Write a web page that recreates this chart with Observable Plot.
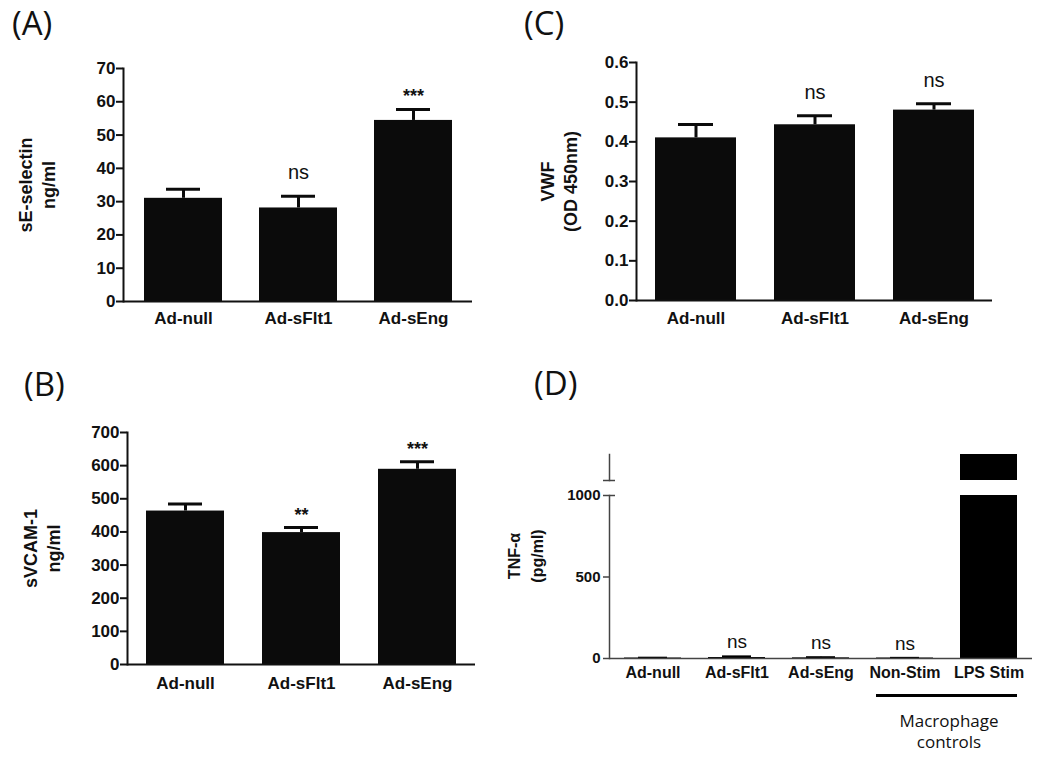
<!DOCTYPE html>
<html><head><meta charset="utf-8">
<script src="https://cdn.jsdelivr.net/npm/d3@7"></script>
<script src="https://cdn.jsdelivr.net/npm/@observablehq/plot@0.6"></script>
<style>
body{margin:0;background:#fff;}
#root{position:relative;width:1050px;height:764px;overflow:hidden;background:#fff;}
.pl{position:absolute;}
.tag{position:absolute;font-family:"Open Sans",sans-serif;font-size:33px;line-height:1;color:#111;}
</style></head><body><div id="root"></div>
<script>
// ---- data ----
const groupsABC = ["Ad-null", "Ad-sFlt1", "Ad-sEng"];
const selectinMean = [31.0, 28.1, 54.4];
const selectinErr = [2.7, 3.5, 3.3];
const selectinSig = ["", "ns", "***"];
const vcamMean = [463, 398, 589];
const vcamErr = [21, 15, 23];
const vcamSig = ["", "**", "***"];
const vwfMean = [0.410, 0.443, 0.480];
const vwfErr = [0.034, 0.023, 0.016];
const vwfSig = ["", "ns", "ns"];
const groupsD = ["Ad-null", "Ad-sFlt1", "Ad-sEng", "Non-Stim", "LPS Stim"];
const tnfMean = [3, 6, 4, 3, 1260];
const tnfErr = [2, 7, 4, 1, 0];
const tnfSig = ["", "ns", "ns", "ns", ""];
const ticksA = [0, 10, 20, 30, 40, 50, 60, 70];
const ticksB = [0, 100, 200, 300, 400, 500, 600, 700];
const ticksC = [0, 0.1, 0.2, 0.3, 0.4, 0.5, 0.6];
const ticksD = [0, 500, 1000];
const labelA = "sE-selectin\nng/ml";
const labelB = "sVCAM-1\nng/ml";
const labelC = "VWF\n(OD 450nm)";
const labelD = "TNF-α\n(pg/ml)";
const bracketD = [{from: "Non-Stim", to: "LPS Stim", label: "Macrophage\ncontrols"}];

const root = document.getElementById("root");
const FONT = '"Liberation Sans", Arial, sans-serif';
function place(el, left, top) {
  const d = document.createElement("div");
  d.className = "pl"; d.style.left = left + "px"; d.style.top = top + "px";
  d.appendChild(el); root.appendChild(d);
}
function tag(t, left, top) {
  const d = document.createElement("div");
  d.className = "tag"; d.textContent = t; d.style.left = left + "px"; d.style.top = top + "px";
  root.appendChild(d);
}

function barPanel(c) {
  const rows = c.groups.map((g, i) => ({g, v: c.mean[i], hi: c.mean[i] + c.err[i], s: c.sig[i]}));
  return Plot.plot({
    width: c.width, height: c.height,
    marginLeft: c.ml, marginRight: c.mr, marginTop: c.mt, marginBottom: c.mb,
    style: {fontFamily: FONT, fontWeight: "bold", fontSize: c.fs + "px", color: "#111", background: "transparent", overflow: "visible"},
    x: {type: "band", domain: c.groups, paddingInner: c.pi, paddingOuter: c.po},
    y: {domain: c.yDomain},
    marks: [
      Plot.barY(rows, {x: "g", y: "v", fill: "#0b0b0b"}),
      Plot.ruleX(rows, {x: "g", y1: "v", y2: "hi", stroke: "#0b0b0b", strokeWidth: 3}),
      Plot.tickY(rows, {x: "g", y: "hi", stroke: "#0b0b0b", strokeWidth: 3, insetLeft: c.cap, insetRight: c.cap}),
      Plot.ruleY([c.yDomain[0]], {stroke: "#111", strokeWidth: 2}),
      Plot.frame({anchor: "left", stroke: "#111", strokeWidth: 2}),
      Plot.axisY({ticks: c.yTicks, tickSize: 7, tickPadding: 1, tickFormat: c.fmt, strokeWidth: 2, fontSize: c.fs, label: null}),
      Plot.axisX({tickSize: 0, tickPadding: c.xpad, fontSize: c.fs, label: null}),
      Plot.text(rows.filter(d => d.s === "ns"), {x: "g", y: "hi", text: "s", lineAnchor: "bottom", dy: -17, fontSize: 20, fontWeight: "normal"}),
      Plot.text(rows.filter(d => d.s.startsWith("*")), {x: "g", y: "hi", text: "s", lineAnchor: "bottom", dy: -7, fontSize: 18}),
      Plot.text([c.label], {frameAnchor: "left", text: d => d, rotate: -90, textAnchor: "middle", lineAnchor: "middle", lineHeight: 1.28, dx: c.ldx, fontSize: 18})
    ]
  });
}

place(barPanel({groups: groupsABC, mean: selectinMean, err: selectinErr, sig: selectinSig,
  yDomain: [0, 70], yTicks: ticksA, fmt: d3.format("d"), label: labelA,
  width: 490, height: 300, ml: 123, mr: 18, mt: 28, mb: 39, pi: 0.325, po: 0.17, cap: 22,
  fs: 17, xpad: 10, ldx: -87}), 0, 40);

place(barPanel({groups: groupsABC, mean: vcamMean, err: vcamErr, sig: vcamSig,
  yDomain: [0, 700], yTicks: ticksB, fmt: d3.format("d"), label: labelB,
  width: 490, height: 300, ml: 127, mr: 15, mt: 22, mb: 46, pi: 0.33, po: 0.165, cap: 22,
  fs: 17, xpad: 12, ldx: -86}), 0, 410);

place(barPanel({groups: groupsABC, mean: vwfMean, err: vwfErr, sig: vwfSig,
  yDomain: [0, 0.6], yTicks: ticksC, fmt: d3.format(".1f"), label: labelC,
  width: 510, height: 300, ml: 136, mr: 18, mt: 22, mb: 40, pi: 0.32, po: 0.15, cap: 23,
  fs: 17, xpad: 11, ldx: -78}), 500, 40);

// ---- panel D (broken axis: lower 0–1000, upper segment) ----
const rowsD = groupsD.map((g, i) => ({g, v: tnfMean[i], hi: tnfMean[i] + tnfErr[i], s: tnfSig[i]}));
const xD = {type: "band", domain: groupsD, paddingInner: 0.32, paddingOuter: 0.176};
const styleD = {fontFamily: FONT, fontWeight: "bold", fontSize: "15px", color: "#111", background: "transparent", overflow: "visible"};

const lowerD = Plot.plot({
  width: 560, height: 284, marginLeft: 129, marginRight: 8, marginTop: 15, marginBottom: 106,
  style: styleD, x: xD, y: {domain: [0, 1000]},
  marks: [
    Plot.barY(rowsD, {x: "g", y: "v", fill: "#000", clip: true}),
    Plot.ruleX(rowsD.filter(d => d.hi > d.v), {x: "g", y1: "v", y2: "hi", stroke: "#000", strokeWidth: 2}),
    Plot.tickY(rowsD.filter(d => d.hi > d.v), {x: "g", y: "hi", stroke: "#000", strokeWidth: 2, insetLeft: 14, insetRight: 14}),
    Plot.ruleY([0], {stroke: "#444", strokeWidth: 1.5}),
    Plot.frame({anchor: "left", stroke: "#444", strokeWidth: 1.5}),
    Plot.axisY({ticks: ticksD, tickSize: 6, tickPadding: 3, tickFormat: d3.format("d"), fontSize: 15, stroke: "#444", strokeWidth: 1.5, label: null}),
    Plot.axisY({ticks: [1000], tickSize: -6, tickFormat: () => "", stroke: "#444", strokeWidth: 1.5, label: null}),
    Plot.axisX({tickSize: 0, tickPadding: 8, fontSize: 16, label: null}),
    Plot.text(rowsD.filter(d => d.s === "ns"), {x: "g", y: "hi", text: "s", lineAnchor: "bottom", dy: -8, fontSize: 19, fontWeight: "normal"}),
    Plot.text([labelD], {frameAnchor: "left", text: d => d, rotate: -90, textAnchor: "middle", lineAnchor: "middle", lineHeight: 1.4, dx: -85, dy: -21, fontSize: 16}),
    Plot.ruleY(bracketD, {x1: "from", x2: "to", y: () => 0, dy: 37, stroke: "#000", strokeWidth: 3}),
    Plot.text(bracketD, {x: "from", y: () => 0, text: "label", dx: 44, dy: 72, lineAnchor: "middle", lineHeight: 1.22, fontFamily: '"Open Sans", sans-serif', fontWeight: "normal", fontSize: 17})
  ]
});
place(lowerD, 480, 480);

const upperD = Plot.plot({
  width: 560, height: 45, marginLeft: 129, marginRight: 8, marginTop: 14, marginBottom: 5,
  style: styleD, x: {...xD, axis: null}, y: {domain: [1100, 1260]},
  marks: [
    Plot.barY(rowsD.filter(d => d.v > 1100), {x: "g", y: "v", fill: "#000", clip: true}),
    Plot.frame({anchor: "left", stroke: "#444", strokeWidth: 1.5}),
    Plot.axisY({ticks: [1100], tickSize: 6, tickFormat: () => "", stroke: "#444", strokeWidth: 1.5, label: null}),
    Plot.axisY({ticks: [1100], tickSize: -6, tickFormat: () => "", stroke: "#444", strokeWidth: 1.5, label: null})
  ]
});
place(upperD, 480, 440);

tag("(A)", 12, 6);
tag("(B)", 24, 367);
tag("(C)", 524, 6);
tag("(D)", 534, 366);
</script></body></html>
